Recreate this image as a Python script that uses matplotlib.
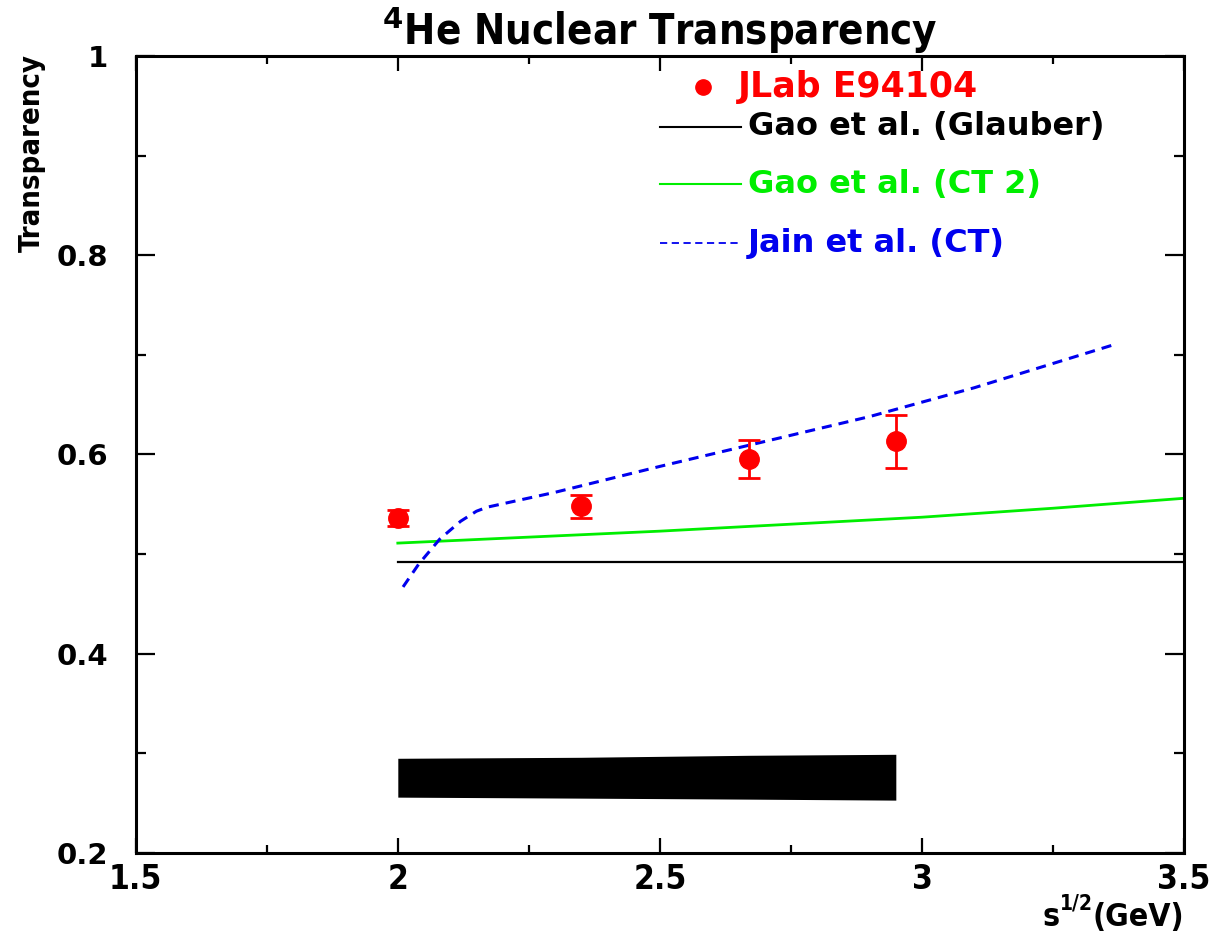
import matplotlib
matplotlib.use('Agg')
from matplotlib import pyplot as plt
from matplotlib import font_manager as fm
from matplotlib.ticker import MultipleLocator
import numpy as np

# E94104 measurement: sqrt(s) [GeV], transparency, stat. error
data_x = [2.0, 2.35, 2.67, 2.95]
data_y = [0.536, 0.548, 0.595, 0.613]
data_err = [0.008, 0.0115, 0.019, 0.027]

# systematic band (lower / upper edge)
band_lo = [0.256, 0.255, 0.254, 0.253]
band_hi = [0.295, 0.296, 0.298, 0.299]

# Gao et al. Glauber
glauber_x = [2.0, 3.5]
glauber_y = [0.492, 0.492]

# Gao et al. CT 2
ct2_x = [2.0, 2.25, 2.5, 2.75, 3.0, 3.25, 3.5]
ct2_y = [0.511, 0.517, 0.523, 0.530, 0.537, 0.546, 0.556]

# Jain et al. CT
jain_x = [2.01, 2.04, 2.08, 2.12, 2.15, 2.17, 2.3, 2.5, 2.7, 2.9, 3.1, 3.365]
jain_y = [0.467, 0.490, 0.515, 0.533, 0.543, 0.547, 0.562, 0.588, 0.613, 0.638, 0.667, 0.710]

wide = 'DejaVu Sans'
def narrow(size):
    return dict(family='DejaVu Sans', stretch='condensed', weight='bold', size=size)

plt.rcParams['mathtext.fontset'] = 'custom'
plt.rcParams['mathtext.rm'] = 'DejaVu Sans:bold'
plt.rcParams['mathtext.bf'] = 'DejaVu Sans:bold'

fig = plt.figure(figsize=(12.17, 9.34), dpi=100)
ax = fig.add_axes([0.1115, 0.0868, 0.8615, 0.8533])

ax.fill_between(data_x, band_lo, band_hi, color='black', lw=0)
ax.plot(glauber_x, glauber_y, color='black', lw=1.6)
ax.plot(ct2_x, ct2_y, color='#00ee00', lw=2)
ax.plot(jain_x, jain_y, color='#0000ee', lw=2.2, dashes=(3.3, 2.3))
ax.errorbar(data_x, data_y, yerr=data_err, fmt='o', color='red', ms=14,
            capsize=8, capthick=2, elinewidth=2)

ax.set_xlim(1.5, 3.5)
ax.set_ylim(0.2, 1.0)
ax.xaxis.set_major_locator(MultipleLocator(0.5))
ax.xaxis.set_minor_locator(MultipleLocator(0.25))
ax.yaxis.set_major_locator(MultipleLocator(0.2))
ax.yaxis.set_minor_locator(MultipleLocator(0.1))
ax.set_xticks([1.5, 2, 2.5, 3, 3.5])
ax.set_xticklabels(['1.5', '2', '2.5', '3', '3.5'])
ax.set_yticks([0.2, 0.4, 0.6, 0.8, 1.0])
ax.set_yticklabels(['0.2', '0.4', '0.6', '0.8', '1'])

ax.tick_params(which='both', direction='in', top=True, right=True, width=1.6)
ax.tick_params(axis='x', which='major', length=11, pad=7)
ax.tick_params(axis='x', which='minor', length=6)
ax.tick_params(axis='y', which='major', length=14, pad=20)
ax.tick_params(axis='y', which='minor', length=7)
for lab in ax.get_xticklabels():
    lab.set_fontproperties(fm.FontProperties(**narrow(24)))
for lab in ax.get_yticklabels():
    lab.set_fontfamily(wide)
    lab.set_fontweight('heavy')
    lab.set_fontsize(21)
for sp in ax.spines.values():
    sp.set_linewidth(2.2)

# legend drawn by hand
ax.plot([2.582], [0.969], 'o', color='red', ms=11)
ax.text(2.649, 0.969, 'JLab E94104', color='red', fontsize=25,
        fontweight='bold', family=wide, va='center')
leg = [('Gao et al. (Glauber)', 'black', '-', 0.929),
       ('Gao et al. (CT 2)', '#00ee00', '-', 0.871),
       ('Jain et al. (CT)', '#0000ee', '--', 0.812)]
for label, col, ls, yy in leg:
    if ls == '--':
        ax.plot([2.5, 2.655], [yy, yy], color=col, lw=1.3, dashes=(4, 2.5))
    else:
        ax.plot([2.5, 2.655], [yy, yy], color=col, lw=1.5)
    ax.text(2.668, yy, label, color=col, fontsize=23, fontweight='bold',
            family=wide, va='center')

fig.text(0.542, 0.967, r'$^{4}$He Nuclear Transparency', ha='center', va='center',
         **narrow(30))
fig.text(0.026, 0.942, 'Transparency', rotation=90, ha='center', va='top',
         **narrow(21))

# x axis title: s^(1/2)(GeV), pieces chained right to left
gev = fig.text(0.973, 0.001, '(GeV)', ha='right', va='bottom', **narrow(23))
sup = ax.annotate('1/2', xy=(0, 0.62), xycoords=gev, ha='right', va='bottom',
                  annotation_clip=False, **narrow(15))
ax.annotate('s', xy=(0, 0), xycoords=(sup, gev), ha='right', va='bottom',
            annotation_clip=False, **narrow(23))

fig.savefig('out.png', dpi=100)
